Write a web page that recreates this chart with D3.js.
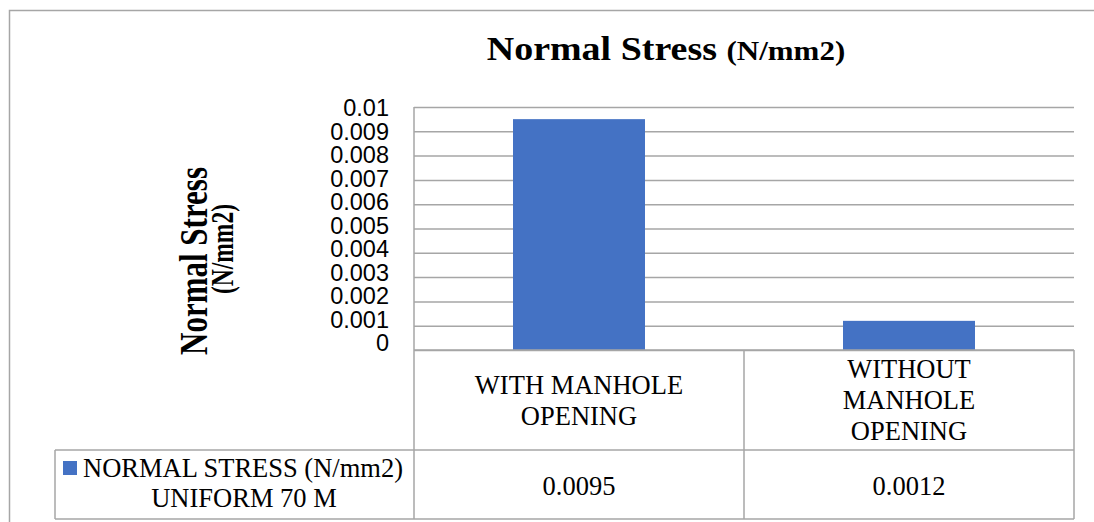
<!DOCTYPE html>
<html>
<head>
<meta charset="utf-8">
<script src="https://cdn.jsdelivr.net/npm/d3@7"></script>
<style>
  html, body { margin: 0; padding: 0; background: #fff; }
  svg { display: block; }
  .serif { font-family: 'Liberation Serif', 'Times New Roman', serif; fill: #000; }
  .axis--y text { font-family: 'Liberation Sans', Arial, sans-serif; font-size: 23.5px; fill: #000; }
</style>
</head>
<body>
<svg id="chart" width="1094" height="522"></svg>
<script>
// DATA
const categories = [['WITH MANHOLE', 'OPENING'], ['WITHOUT', 'MANHOLE', 'OPENING']];
const values = [0.0095, 0.0012];
const valueLabels = ['0.0095', '0.0012'];
const yTicks = [0, 0.001, 0.002, 0.003, 0.004, 0.005, 0.006, 0.007, 0.008, 0.009, 0.01];
const seriesName = ['NORMAL STRESS (N/mm2)', 'UNIFORM 70 M'];

// SETUP
const svg = d3.select('svg'),
  plot = { left: 414, right: 1074, top: 107, bottom: 350 },
  table = { left: 55, headBottom: 450, bottom: 519 },
  lineColor = '#a6a6a6',
  barColor = '#4472c4';

const x = d3.scaleBand()
  .domain(d3.range(values.length))
  .range([plot.left, plot.right])
  .padding(0);
const y = d3.scaleLinear().domain([0, 0.01]).range([plot.bottom, plot.top]);
// tick labels in the source sit slightly tighter than the gridlines
const yLabel = d3.scaleLinear().domain([0, 0.01]).range([343, 108]);

// OUTER BORDER
svg.append('rect')
  .attr('x', 9.5).attr('y', 10.5)
  .attr('width', 1200).attr('height', 700)
  .attr('fill', 'none')
  .attr('stroke', lineColor)
  .attr('stroke-width', 1.5);

// TITLE (glyphs in the source are a bit wide for their height)
const title = svg.append('g')
  .attr('transform', 'translate(666,60) scale(1,0.9)')
  .append('text')
  .attr('class', 'serif')
  .attr('text-anchor', 'middle')
  .style('font-weight', 'bold');
title.append('tspan').style('font-size', '38px').text('Normal Stress ');
title.append('tspan').style('font-size', '31px').text('(N/mm2)');

// Y AXIS TITLE
const yt = svg.append('g').attr('transform', 'translate(207,261) scale(1.3,1) rotate(-90)');
yt.append('text')
  .attr('class', 'serif')
  .attr('text-anchor', 'middle')
  .style('font-weight', 'bold')
  .style('font-size', '31px')
  .text('Normal Stress');
yt.append('text')
  .attr('class', 'serif')
  .attr('x', 12).attr('y', 20)
  .attr('text-anchor', 'middle')
  .style('font-weight', 'bold')
  .style('font-size', '23.5px')
  .text('(N/mm2)');

// GRIDLINES
svg.append('g')
  .attr('class', 'grid')
  .attr('transform', 'translate(' + plot.left + ',0)')
  .call(d3.axisRight(y).tickValues(yTicks).tickSize(plot.right - plot.left).tickFormat(''))
  .call(g => g.select('.domain').remove())
  .selectAll('line')
  .attr('stroke', lineColor)
  .attr('stroke-width', 1.5);

// Y AXIS LABELS
svg.append('g')
  .attr('class', 'axis axis--y')
  .attr('transform', 'translate(389,0)')
  .call(d3.axisLeft(yLabel).tickValues(yTicks).tickSize(0).tickPadding(0).tickFormat(d3.format('~g')))
  .call(g => g.select('.domain').remove());

// BARS
const bw = x.bandwidth() * 0.4;
svg.selectAll('.bar')
  .data(values)
  .enter()
  .append('rect')
  .attr('class', 'bar')
  .attr('x', (d, i) => x(i) + (x.bandwidth() - bw) / 2)
  .attr('y', d => y(d))
  .attr('width', bw)
  .attr('height', d => y(0) - y(d))
  .attr('fill', barColor);

// DATA TABLE
const tg = svg.append('g')
  .attr('fill', 'none')
  .attr('stroke', lineColor)
  .attr('stroke-width', 1.5);
// left axis line
tg.append('line').attr('x1', plot.left).attr('x2', plot.left).attr('y1', plot.top).attr('y2', table.bottom);
// horizontal rules
[[plot.left, plot.bottom], [table.left, table.headBottom], [table.left, table.bottom]].forEach(([x0, yy]) => {
  tg.append('line').attr('x1', x0).attr('x2', plot.right).attr('y1', yy).attr('y2', yy);
});
// column dividers
d3.range(values.length).forEach(i => {
  const xx = x(i) + x.bandwidth();
  tg.append('line').attr('x1', xx).attr('x2', xx).attr('y1', plot.bottom).attr('y2', table.bottom);
});
tg.append('line').attr('x1', table.left).attr('x2', table.left).attr('y1', table.headBottom).attr('y2', table.bottom);

// category headers
const lh = 31;
const headMid = (plot.bottom + table.headBottom) / 2;
svg.selectAll('.cat')
  .data(categories)
  .enter()
  .append('text')
  .attr('class', 'serif cat')
  .attr('text-anchor', 'middle')
  .style('font-size', '26.5px')
  .each(function (lines, i) {
    const t = d3.select(this);
    const y0 = headMid - (lines.length - 1) * lh / 2 + 9;
    lines.forEach((l, k) => {
      t.append('tspan')
        .attr('x', x(i) + x.bandwidth() / 2)
        .attr('y', y0 + k * lh)
        .text(l);
    });
  });

// values row
svg.selectAll('.val')
  .data(valueLabels)
  .enter()
  .append('text')
  .attr('class', 'serif val')
  .attr('text-anchor', 'middle')
  .attr('x', (d, i) => x(i) + x.bandwidth() / 2)
  .attr('y', 495)
  .style('font-size', '26.5px')
  .text(d => d);

// legend key cell
svg.append('rect')
  .attr('x', 63).attr('y', 461)
  .attr('width', 14).attr('height', 14)
  .attr('fill', barColor);
svg.append('text')
  .attr('class', 'serif')
  .attr('x', 83).attr('y', 477)
  .style('font-size', '26.5px')
  .text(seriesName[0]);
svg.append('text')
  .attr('class', 'serif')
  .attr('x', 244).attr('y', 507)
  .attr('text-anchor', 'middle')
  .style('font-size', '26.5px')
  .text(seriesName[1]);
</script>
</body>
</html>
